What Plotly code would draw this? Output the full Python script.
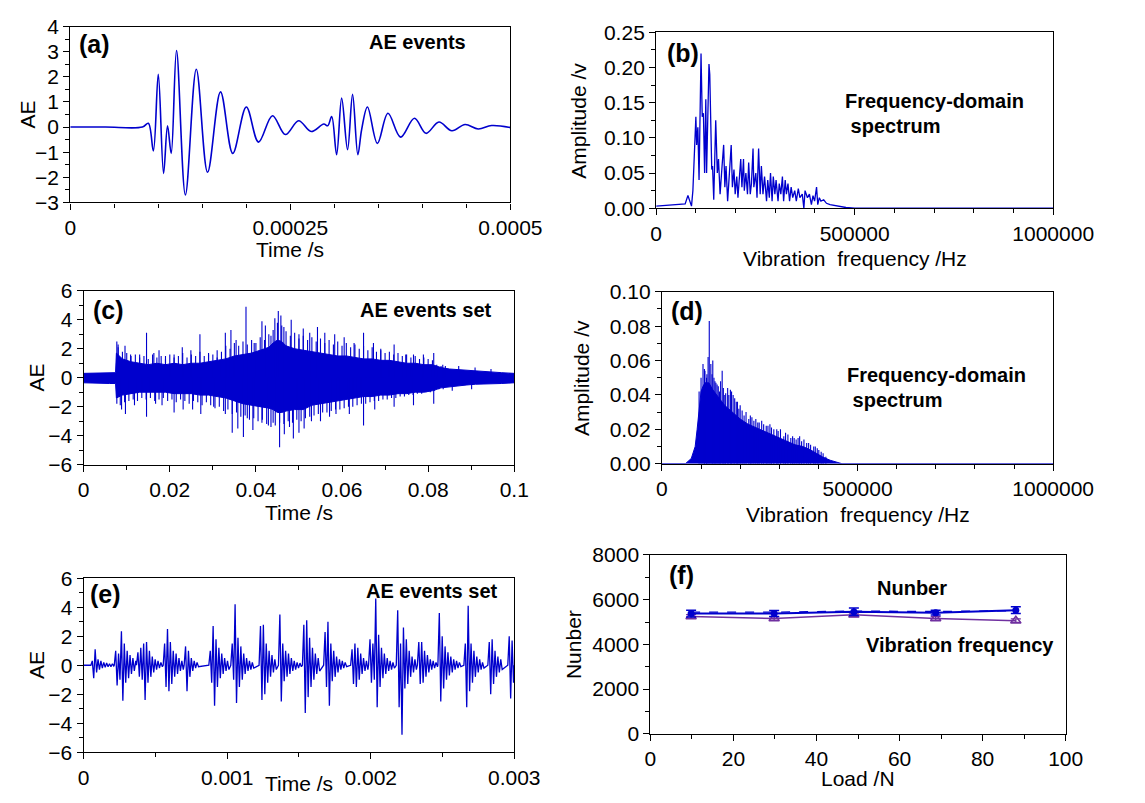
import plotly.graph_objects as go

# ---------------- data ----------------
# (a) single AE event (time in s, AE amplitude) - extrema of the waveform
a_t = [0, 0.00004, 0.000082, 0.0000887, 0.0000944, 0.0001, 0.000106, 0.0001105, 0.0001147, 0.0001207,
       0.0001308, 0.0001432, 0.000156, 0.0001707, 0.0001846, 0.0002, 0.0002139, 0.0002297, 0.0002444, 0.0002594,
       0.0002737, 0.000288, 0.0002925, 0.000297, 0.0003026, 0.0003083, 0.000315, 0.0003207, 0.0003267, 0.000331,
       0.0003376, 0.0003489, 0.0003609, 0.0003752, 0.000391, 0.0004041, 0.0004188, 0.0004335, 0.0004485, 0.0004635,
       0.0004786, 0.0005]
a_v = [0, 0, 0, 0.15, -0.95, 2.1, -1.85, 0.05, -1.05, 3.05,
       -2.7, 2.3, -1.8, 1.4, -1.05, 0.8, -0.6, 0.45, -0.3, 0.25,
       -0.18, 0.12, 0.05, 0.42, -1.1, 1.15, -0.9, 1.3, -1.1, -0.1,
       0.8, -0.65, 0.55, -0.4, 0.35, -0.25, 0.2, -0.15, 0.1, -0.08,
       0.06, -0.02]

# (b) spectrum of the single event (Hz, amplitude)
b_f = [0, 30000, 60000, 73000, 80000, 89000, 92500, 100000, 102000, 105000,
       108000, 113000, 116000, 119000, 122000, 125000, 127000, 133000, 135000, 140000,
       142000, 145000, 150000, 154000, 157000, 161000, 166000, 170000, 173000, 176000,
       180000, 184000, 189000, 192000, 196000, 199000, 203000, 206000, 213000, 216000,
       220000, 222000, 226000, 230000, 233000, 237000, 240000, 244000, 246000, 251000,
       254000, 258000, 262000, 265000, 269000, 273000, 278000, 281000, 285000, 288000,
       292000, 295000, 299000, 302000, 307000, 310000, 314000, 318000, 321000, 325000,
       328000, 332000, 336000, 340000, 344000, 349000, 353000, 358000, 362000, 368000,
       372000, 375000, 381000, 386000, 391000, 395000, 399000, 404000, 407000, 411000,
       415000, 422000, 429000, 438000, 447000, 460000, 478000, 500000, 1000000]
b_a = [0.003, 0.004, 0.005, 0.006, 0.018, 0.003, 0.025, 0.13, 0.09, 0.115,
       0.04, 0.22, 0.13, 0.135, 0.05, 0.155, 0.05, 0.205, 0.19, 0.055,
       0.06, 0.012, 0.125, 0.05, 0.07, 0.02, 0.06, 0.09, 0.03, 0.06,
       0.01, 0.05, 0.09, 0.03, 0.055, 0.02, 0.045, 0.015, 0.07, 0.03,
       0.07, 0.025, 0.05, 0.02, 0.065, 0.02, 0.035, 0.085, 0.03, 0.05,
       0.015, 0.085, 0.02, 0.06, 0.02, 0.045, 0.01, 0.04, 0.015, 0.05,
       0.01, 0.045, 0.02, 0.04, 0.01, 0.035, 0.02, 0.045, 0.01, 0.04,
       0.02, 0.035, 0.01, 0.03, 0.015, 0.025, 0.01, 0.028, 0.015, 0.02,
       0.0, 0.025, 0.015, 0.02, 0.005, 0.018, 0.01, 0.03, 0.005, 0.015,
       0.01, 0.012, 0.007, 0.005, 0.004, 0.002, 0.001, 0.0, 0.0]

# (c) AE events set: dense band (upper / lower envelope) plus individual spikes
c_band_t = [0, 0.002, 0.004, 0.006, 0.0074, 0.0076, 0.009, 0.011, 0.013, 0.015,
            0.017, 0.019, 0.021, 0.023, 0.025, 0.027, 0.029, 0.031, 0.033, 0.035,
            0.037, 0.039, 0.041, 0.043, 0.044, 0.045, 0.046, 0.047, 0.049, 0.051,
            0.053, 0.055, 0.057, 0.059, 0.061, 0.063, 0.065, 0.067, 0.069, 0.071,
            0.073, 0.075, 0.077, 0.079, 0.081, 0.083, 0.085, 0.087, 0.089, 0.091,
            0.093, 0.095, 0.097, 0.1]
c_band_up = [0.3, 0.3, 0.3, 0.35, 0.35, 1.7, 1.3, 1.1, 1.0, 0.9,
             1.0, 0.9, 1.0, 0.9, 1.0, 1.0, 1.1, 1.2, 1.3, 1.5,
             1.6, 1.7, 1.9, 2.1, 2.4, 2.6, 2.5, 2.2, 2.0, 1.9,
             1.8, 1.7, 1.6, 1.5, 1.5, 1.4, 1.3, 1.3, 1.2, 1.2,
             1.1, 1.0, 1.0, 0.9, 0.9, 0.7, 0.6, 0.55, 0.5, 0.5,
             0.45, 0.4, 0.35, 0.3]
c_band_lo = [-0.35, -0.35, -0.4, -0.4, -0.4, -1.4, -1.2, -1.1, -1.0, -1.0,
             -1.0, -1.0, -1.1, -1.1, -1.1, -1.2, -1.2, -1.3, -1.4, -1.6,
             -1.8, -1.9, -2.0, -2.1, -2.2, -2.4, -2.4, -2.3, -2.2, -2.2,
             -1.9, -1.8, -1.7, -1.6, -1.5, -1.4, -1.3, -1.3, -1.2, -1.2,
             -1.1, -1.1, -1.0, -1.0, -0.9, -0.7, -0.6, -0.55, -0.5, -0.45,
             -0.45, -0.4, -0.4, -0.35]
c_up_t = [0.0077, 0.0080, 0.0096, 0.0109, 0.013, 0.0146, 0.0163, 0.0175, 0.019, 0.021,
          0.0229, 0.0249, 0.027, 0.029, 0.031, 0.0329, 0.0342, 0.0354, 0.0377, 0.0396,
          0.0414, 0.0422, 0.0435, 0.0444, 0.0452, 0.0458, 0.0465, 0.0482, 0.05, 0.051,
          0.0525, 0.0543, 0.056, 0.0583, 0.0605, 0.0628, 0.065, 0.0673, 0.069, 0.0721,
          0.0748, 0.0766, 0.0789, 0.0813, 0.0834, 0.0871, 0.0909, 0.0946]
c_up_v = [2.5, 2.3, 2.2, 1.6, 1.6, 3.1, 1.7, 1.9, 1.5, 1.6,
          2.1, 1.9, 3.0, 1.6, 1.4, 3.1, 3.3, 2.6, 4.9, 2.4,
          3.9, 3.6, 2.9, 4.1, 4.6, 4.3, 3.5, 4.0, 3.0, 3.4,
          3.1, 3.5, 3.1, 3.0, 2.8, 2.4, 3.1, 2.4, 2.0, 2.3,
          1.6, 1.6, 1.6, 1.7, 0.9, 0.8, 0.7, 0.6]
c_dn_t = [0.0077, 0.0088, 0.0097, 0.0118, 0.0146, 0.0167, 0.0182, 0.021, 0.0231, 0.0253,
          0.0272, 0.0302, 0.0329, 0.0345, 0.0358, 0.0371, 0.038, 0.0393, 0.0414, 0.0429,
          0.044, 0.0455, 0.0466, 0.0478, 0.0487, 0.05, 0.0512, 0.0529, 0.055, 0.0571,
          0.0586, 0.0617, 0.065, 0.0676, 0.0721, 0.0766, 0.0813, 0.0856, 0.0901]
c_dn_v = [-1.8, -2.2, -2.5, -1.9, -2.7, -1.8, -1.9, -2.4, -2.2, -2.2,
          -2.5, -2.0, -2.5, -3.8, -3.5, -4.1, -2.8, -3.6, -3.1, -3.3,
          -3.1, -4.8, -3.9, -3.4, -4.2, -3.8, -3.5, -3.0, -3.0, -2.7,
          -2.5, -2.5, -3.3, -2.2, -2.0, -1.9, -1.8, -0.9, -0.8]
# smaller hair-like peaks on the upper and lower edges of the band
c_hair_up_t = [0.008, 0.009, 0.010, 0.011, 0.012, 0.013, 0.014, 0.015, 0.016, 0.017,
               0.018, 0.019, 0.020, 0.021, 0.022, 0.023, 0.024, 0.025, 0.026, 0.027,
               0.028, 0.029, 0.030, 0.031, 0.032, 0.033, 0.034, 0.035, 0.036, 0.037,
               0.038, 0.039, 0.040, 0.041, 0.042, 0.043, 0.044, 0.045, 0.046, 0.047,
               0.048, 0.049, 0.050, 0.051, 0.052, 0.053, 0.054, 0.055, 0.056, 0.057,
               0.058, 0.059, 0.060, 0.061, 0.062, 0.063, 0.064, 0.065, 0.066, 0.067,
               0.068, 0.069, 0.070, 0.071, 0.072, 0.073, 0.074, 0.075, 0.076, 0.077,
               0.078, 0.079, 0.080, 0.081, 0.082, 0.083, 0.084]
c_hair_up_v = [2.1, 1.8, 1.7, 1.5, 1.6, 1.4, 1.5, 1.3, 1.6, 1.4,
               1.5, 1.3, 1.6, 1.4, 1.5, 1.7, 1.4, 1.6, 1.5, 1.8,
               1.5, 1.7, 1.6, 1.9, 1.8, 2.2, 2.0, 2.4, 2.2, 2.5,
               2.3, 2.6, 2.4, 2.8, 2.6, 3.0, 3.3, 3.8, 3.6, 3.2,
               2.9, 3.1, 2.7, 2.9, 2.6, 2.8, 2.5, 2.7, 2.4, 2.6,
               2.3, 2.5, 2.2, 2.4, 2.1, 2.3, 2.0, 2.2, 1.9, 2.1,
               1.8, 1.9, 1.7, 1.8, 1.6, 1.7, 1.5, 1.6, 1.4, 1.5,
               1.3, 1.4, 1.3, 1.2, 0.9, 0.8, 0.8]
c_hair_dn_t = [0.0085, 0.0095, 0.0105, 0.0115, 0.0125, 0.0135, 0.0145, 0.0155, 0.0165, 0.0175,
               0.0185, 0.0195, 0.0205, 0.0215, 0.0225, 0.0235, 0.0245, 0.0255, 0.0265, 0.0275,
               0.0285, 0.0295, 0.0305, 0.0315, 0.0325, 0.0335, 0.0345, 0.0355, 0.0365, 0.0375,
               0.0385, 0.0395, 0.0405, 0.0415, 0.0425, 0.0435, 0.0445, 0.0455, 0.0465, 0.0475,
               0.0485, 0.0495, 0.0505, 0.0515, 0.0525, 0.0535, 0.0545, 0.0555, 0.0565, 0.0575,
               0.0585, 0.0595, 0.0605, 0.0615, 0.0625, 0.0635, 0.0645, 0.0655, 0.0665, 0.0675,
               0.0685, 0.0695, 0.0705, 0.0715, 0.0725, 0.0735, 0.0745, 0.0755, 0.0765, 0.0775,
               0.0785, 0.0795, 0.0805, 0.0815, 0.0825, 0.0835]
c_hair_dn_v = [-1.9, -1.7, -1.6, -1.5, -1.6, -1.4, -1.5, -1.4, -1.6, -1.5,
               -1.4, -1.6, -1.5, -1.7, -1.5, -1.6, -1.8, -1.6, -1.7, -1.9,
               -1.7, -1.9, -2.1, -2.0, -2.3, -2.2, -2.5, -2.4, -2.7, -2.6,
               -2.9, -2.8, -3.0, -2.9, -3.2, -3.4, -3.3, -3.1, -3.2, -3.0,
               -3.1, -2.9, -3.0, -2.8, -2.7, -2.6, -2.5, -2.4, -2.4, -2.3,
               -2.2, -2.2, -2.1, -2.0, -2.0, -1.9, -1.8, -1.8, -1.7, -1.6,
               -1.6, -1.5, -1.5, -1.4, -1.4, -1.3, -1.3, -1.2, -1.2, -1.1,
               -1.1, -1.0, -1.0, -0.9, -0.8, -0.8]

# (d) spectrum of the events set: dense envelope plus spikes
d_f = [0, 60000, 75000, 85000, 90000, 95000, 100000, 105000, 110000, 120000,
       130000, 140000, 150000, 160000, 170000, 180000, 190000, 200000,
       220000, 240000, 260000, 280000, 300000, 320000, 340000, 360000, 380000,
       395000, 410000, 430000, 450000, 460000, 1000000]
d_a = [0, 0, 0.003, 0.01, 0.02, 0.033, 0.042, 0.045, 0.047, 0.047,
       0.043, 0.04, 0.037, 0.034, 0.032, 0.03, 0.028, 0.026,
       0.023, 0.021, 0.019, 0.017, 0.015, 0.013, 0.011, 0.01, 0.008,
       0.006, 0.004, 0.002, 0.0005, 0, 0]
d_spk_f = [105000, 108600, 114000, 121000, 125000, 130000, 135500, 141000, 147000, 154000,
           160700, 168000, 175000, 182000, 190000, 196600, 210000, 222000, 235000, 248600,
           266600, 280000, 293500, 311500, 329400, 343000, 352000, 370000, 388000, 401000, 419000,
           95000, 100000, 110000, 115000, 118000, 128000, 133000, 138000, 144000, 150000,
           157000, 163000, 171000, 178000, 186000, 193000, 200000, 205000, 215000, 226000,
           230000, 240000, 245000, 255000, 260000, 271000, 276000, 286000, 297000, 303000,
           316000, 322000, 334000, 338000, 348000, 357000, 363000, 375000, 380000, 392000,
           397000, 407000, 412000]
d_spk_a = [0.058, 0.055, 0.05, 0.083, 0.058, 0.06, 0.048, 0.046, 0.042, 0.054,
           0.04, 0.044, 0.043, 0.04, 0.036, 0.032, 0.028, 0.026, 0.025, 0.024,
           0.022, 0.021, 0.02, 0.016, 0.015, 0.014, 0.016, 0.012, 0.01, 0.008, 0.004,
           0.042, 0.05, 0.054, 0.052, 0.062, 0.052, 0.05, 0.047, 0.045, 0.048,
           0.044, 0.041, 0.04, 0.042, 0.038, 0.036, 0.034, 0.031, 0.03, 0.028,
           0.027, 0.026, 0.024, 0.025, 0.023, 0.022, 0.023, 0.02, 0.019, 0.02,
           0.018, 0.017, 0.016, 0.015, 0.015, 0.013, 0.014, 0.012, 0.011, 0.01,
           0.009, 0.007, 0.006]

# (e) events set (short window): burst onset times and successive extrema of each burst
e_half_period = 0.00001
e_start = [0.00006, 0.000223, 0.000378, 0.000564, 0.00071, 0.000882, 0.001035, 0.001232, 0.001367,
           0.001534, 0.001682, 0.00187, 0.001995, 0.002188, 0.002335, 0.002478, 0.002659, 0.002826, 0.002965]
e_bursts = [
    [0.3, -0.9, 1.1, -0.5, 0.4, -0.3, 0.3, -0.2, 0.2, -0.15, 0.15, -0.1, 0.1, -0.1, 0.1, -0.05],
    [1.0, -1.4, 0.8, -1.0, 2.35, -2.45, 1.5, -1.2, 1.0, -0.9, 0.7, -0.6, 0.5, -0.4, 0.3],
    [0.9, -0.8, 1.2, -1.0, 1.5, -2.4, 1.6, -1.2, 1.0, -0.8, 0.6, -0.5, 0.4, -0.3, 0.3, -0.2, 0.2, -0.1],
    [1.5, -1.5, 2.5, -1.8, 1.6, -1.3, 1.0, -0.8, 0.8, -0.6, 0.5, -0.4, 0.3, -0.3],
    [1.3, -1.8, 1.0, -0.8, 0.5, -0.4, 0.3, -0.2, 0.2, -0.1],
    [1.0, -1.2, 2.7, -2.8, 1.8, -1.5, 1.2, -0.9, 0.8, -0.6, 0.5, -0.4, 0.3, -0.3],
    [1.5, -1.0, 4.2, -2.6, 1.9, -1.5, 1.3, -1.0, 0.8, -0.6, 0.5, -0.4, 0.3, -0.3, 0.2, -0.2],
    [2.7, -2.4, 2.8, -2.0, 1.5, -1.2, 1.0, -0.8, 0.7, -0.5, 0.4, -0.3],
    [3.5, -2.5, 1.5, -1.1, 1.0, -0.8, 0.8, -0.6, 0.5, -0.4, 0.3, -0.3, 0.2, -0.2, 0.15, -0.1],
    [2.8, -3.3, 3.1, -2.2, 1.9, -1.5, 1.2, -1.0, 0.8, -0.6, 0.5, -0.4],
    [2.3, -1.5, 3.0, -2.8, 1.5, -1.1, 1.0, -0.8, 0.6, -0.5, 0.4, -0.3, 0.3, -0.2, 0.2, -0.1],
    [1.1, -1.3, 1.5, -1.5, 1.2, -1.0, 0.8, -0.6, 0.5, -0.4, 0.3, -0.3],
    [1.8, -1.2, 1.5, -1.0, 4.6, -2.9, 2.1, -1.5, 1.2, -0.9, 0.8, -0.6, 0.5, -0.4, 0.3, -0.3, 0.2, -0.2],
    [3.8, -2.9, 1.5, -4.8, 2.6, -1.6, 1.8, -1.3, 1.0, -0.8, 0.6, -0.5, 0.4, -0.3],
    [1.6, -1.3, 1.6, -1.2, 1.0, -0.8, 0.7, -0.5, 0.4, -0.3, 0.3, -0.2, 0.2, -0.1],
    [3.6, -2.5, 2.0, -1.6, 1.3, -1.0, 0.9, -0.7, 0.6, -0.5, 0.4, -0.3, 0.3, -0.2, 0.2, -0.1],
    [1.5, -2.9, 4.1, -1.8, 1.5, -1.2, 1.0, -0.8, 0.6, -0.5, 0.4, -0.3, 0.2, -0.2],
    [1.6, -2.0, 1.8, -1.3, 1.0, -0.8, 0.6, -0.5, 0.4, -0.3],
    [2.0, -2.3, 1.7, -1.2],
]

# (f) number / vibration frequency versus load
f_load = [9.8, 29.8, 49.0, 68.7, 88.0]
f_number = [5380, 5380, 5460, 5420, 5530]
f_number_err = [150, 130, 170, 110, 150]
f_number_mean = [5440, 5440, 5490, 5470, 5510]
f_vib = [5250, 5160, 5320, 5160, 5060]
f_vib_err = [80, 80, 80, 80, 80]

# tick labels
a_xticks = [0, 0.00025, 0.0005]; a_xlabels = ["0", "0.00025", "0.0005"]
a_yticks = [-3, -2, -1, 0, 1, 2, 3, 4]
spec_xticks = [0, 500000, 1000000]; spec_xlabels = ["0", "500000", "1000000"]
b_yticks = [0, 0.05, 0.10, 0.15, 0.20, 0.25]; b_ylabels = ["0.00", "0.05", "0.10", "0.15", "0.20", "0.25"]
c_xticks = [0, 0.02, 0.04, 0.06, 0.08, 0.1]; c_xlabels = ["0", "0.02", "0.04", "0.06", "0.08", "0.1"]
ae_yticks = [-6, -4, -2, 0, 2, 4, 6]
d_yticks = [0, 0.02, 0.04, 0.06, 0.08, 0.10]; d_ylabels = ["0.00", "0.02", "0.04", "0.06", "0.08", "0.10"]
e_xticks = [0, 0.001, 0.002, 0.003]; e_xlabels = ["0", "0.001", "0.002", "0.003"]
f_xticks = [0, 20, 40, 60, 80, 100]
f_yticks = [0, 2000, 4000, 6000, 8000]

# ---------------- figure ----------------
W, H = 1145, 803
BLUE = "rgb(0,0,205)"
PURPLE = "rgb(112,48,160)"
FONT = "Liberation Sans, Arial, sans-serif"
TICK = 21
TITLE = 21
NOTE = 20
PANEL = 25


def dom_x(a, b):
    return [a / W, b / W]


def dom_y(top, bottom):
    return [1 - bottom / H, 1 - top / H]


def spikes(ts, vs):
    xs, ys = [], []
    for t, v in zip(ts, vs):
        xs += [t, t, None]
        ys += [0, v, None]
    return xs, ys


fig = go.Figure()

# (a)
fig.add_trace(go.Scatter(x=a_t, y=a_v, mode="lines", line=dict(color=BLUE, width=1.6, shape="spline", smoothing=1.0),
                         xaxis="x", yaxis="y", hoverinfo="skip"))
# (b)
fig.add_trace(go.Scatter(x=b_f, y=b_a, mode="lines", line=dict(color=BLUE, width=1.3),
                         xaxis="x2", yaxis="y2", hoverinfo="skip"))
# (c)
fig.add_trace(go.Scatter(x=c_band_t + c_band_t[::-1], y=c_band_up + c_band_lo[::-1], mode="lines",
                         fill="toself", fillcolor=BLUE, line=dict(color=BLUE, width=1),
                         xaxis="x3", yaxis="y3", hoverinfo="skip"))
sx, sy = spikes(c_up_t + c_dn_t + c_hair_up_t + c_hair_dn_t, c_up_v + c_dn_v + c_hair_up_v + c_hair_dn_v)
fig.add_trace(go.Scatter(x=sx, y=sy, mode="lines", line=dict(color=BLUE, width=1.1),
                         xaxis="x3", yaxis="y3", hoverinfo="skip"))
# (d)
fig.add_trace(go.Scatter(x=d_f, y=d_a, mode="lines", fill="tozeroy", fillcolor=BLUE,
                         line=dict(color=BLUE, width=1), xaxis="x4", yaxis="y4", hoverinfo="skip"))
sx, sy = spikes(d_spk_f, d_spk_a)
fig.add_trace(go.Scatter(x=sx, y=sy, mode="lines", line=dict(color=BLUE, width=1.1),
                         xaxis="x4", yaxis="y4", hoverinfo="skip"))
# (e)
e_t, e_v = [0.0], [0.0]
for s, amps in zip(e_start, e_bursts):
    e_t.append(s - e_half_period)
    e_v.append(0.0)
    for k, a in enumerate(amps):
        e_t.append(s + k * e_half_period)
        e_v.append(a)
e_t.append(0.003)
e_v.append(0.0)
fig.add_trace(go.Scatter(x=e_t, y=e_v, mode="lines", line=dict(color=BLUE, width=1.3),
                         xaxis="x5", yaxis="y5", hoverinfo="skip"))
# (f)
fig.add_trace(go.Scatter(x=f_load, y=f_number_mean, mode="lines", line=dict(color=BLUE, width=1.3, dash="dash"),
                         xaxis="x6", yaxis="y6", hoverinfo="skip"))
fig.add_trace(go.Scatter(x=f_load, y=f_vib, mode="lines+markers",
                         line=dict(color=PURPLE, width=1.5),
                         marker=dict(symbol="triangle-up-open", size=9, color=PURPLE, line=dict(width=1.5)),
                         error_y=dict(type="data", array=f_vib_err, color=PURPLE, thickness=1.3, width=5),
                         xaxis="x6", yaxis="y6", hoverinfo="skip"))
fig.add_trace(go.Scatter(x=f_load, y=f_number, mode="lines+markers",
                         line=dict(color=BLUE, width=2),
                         marker=dict(symbol="circle", size=7, color=BLUE),
                         error_y=dict(type="data", array=f_number_err, color=BLUE, thickness=1.5, width=5),
                         xaxis="x6", yaxis="y6", hoverinfo="skip"))


def axis(domain, rng, tickvals, ticktext, minor_dtick, anchor):
    d = dict(domain=domain, range=rng, tickmode="array", tickvals=tickvals,
             showline=True, linecolor="black", linewidth=1.3, mirror=True,
             ticks="outside", ticklen=6, tickwidth=1.3, tickcolor="black",
             showgrid=False, zeroline=False, anchor=anchor, fixedrange=True,
             tickfont=dict(family=FONT, size=TICK, color="black"),
             minor=dict(ticks="outside", ticklen=4, tickwidth=1.3, tickcolor="black",
                        tickmode="linear", tick0=0, dtick=minor_dtick, showgrid=False))
    if ticktext is not None:
        d["ticktext"] = ticktext
    return d


PAN = {
    "a": (67, 526, 15, 196),
    "b": (678, 1092, 21, 202),
    "c": (81, 530, 287, 466),
    "d": (684, 1092, 288, 465),
    "e": (81, 530, 583, 762),
    "f": (672, 1105, 559, 743),
}

lay = dict(width=W, height=H, margin=dict(l=0, r=0, t=0, b=0), paper_bgcolor="white",
           plot_bgcolor="white", showlegend=False, font=dict(family=FONT, color="black"))

x0, x1, y0, y1 = PAN["a"]
lay["xaxis"] = axis(dom_x(x0, x1), [0, 0.0005], a_xticks, a_xlabels, 0.00005, "y")
lay["yaxis"] = axis(dom_y(y0, y1), [-3, 4], a_yticks, None, 0.5, "x")
x0, x1, y0, y1 = PAN["b"]
lay["xaxis2"] = axis(dom_x(x0, x1), [0, 1000000], spec_xticks, spec_xlabels, 100000, "y2")
lay["yaxis2"] = axis(dom_y(y0, y1), [0, 0.25], b_yticks, b_ylabels, 0.025, "x2")
x0, x1, y0, y1 = PAN["c"]
lay["xaxis3"] = axis(dom_x(x0, x1), [0, 0.1], c_xticks, c_xlabels, 0.01, "y3")
lay["yaxis3"] = axis(dom_y(y0, y1), [-6, 6], ae_yticks, None, 1, "x3")
x0, x1, y0, y1 = PAN["d"]
lay["xaxis4"] = axis(dom_x(x0, x1), [0, 1000000], spec_xticks, spec_xlabels, 100000, "y4")
lay["yaxis4"] = axis(dom_y(y0, y1), [0, 0.1], d_yticks, d_ylabels, 0.01, "x4")
x0, x1, y0, y1 = PAN["e"]
lay["xaxis5"] = axis(dom_x(x0, x1), [0, 0.003], e_xticks, e_xlabels, 0.0005, "y5")
lay["yaxis5"] = axis(dom_y(y0, y1), [-6, 6], ae_yticks, None, 1, "x5")
x0, x1, y0, y1 = PAN["f"]
lay["xaxis6"] = axis(dom_x(x0, x1), [0, 100], f_xticks, None, 10, "y6")
lay["yaxis6"] = axis(dom_y(y0, y1), [0, 8000], f_yticks, None, 1000, "x6")


def ptitle(text, x, y, angle=0):
    return dict(text=text, x=x / W, y=1 - y / H, xref="paper", yref="paper", showarrow=False,
                xanchor="center", yanchor="middle", textangle=angle,
                font=dict(family=FONT, size=TITLE, color="black"))


def dnote(text, ax, x, y, size=NOTE, xanchor="center"):
    return dict(text="<b>" + text + "</b>", x=x, y=y, xref="x" + ax, yref="y" + ax, showarrow=False,
                xanchor=xanchor, yanchor="middle", font=dict(family=FONT, size=size, color="black"))


def cx(p):
    return (PAN[p][0] + PAN[p][1]) / 2


def cy(p):
    return (PAN[p][2] + PAN[p][3]) / 2


anns = [
    # axis titles
    ptitle("AE", 22, cy("a"), -90), ptitle("Time /s", cx("a"), 244),
    ptitle("Amplitude /v", 597, cy("b"), -90), ptitle("Vibration  frequency /Hz", cx("b"), 254),
    ptitle("AE", 32, cy("c"), -90), ptitle("Time /s", cx("c"), 515),
    ptitle("Amplitude /v", 600, cy("d"), -90), ptitle("Vibration  frequency /Hz", cx("d"), 517),
    ptitle("AE", 32, cy("e"), -90), ptitle("Time /s", cx("e"), 794),
    ptitle("Nunber", 592, cy("f"), -90), ptitle("Load /N", cx("f"), 789),
    # panel labels and notes (placed in each panel's data coordinates)
    dnote("(a)", "", 0.000008, 3.3, size=PANEL, xanchor="left"),
    dnote("AE events", "", 0.000394, 3.38),
    dnote("(b)", "2", 21000, 0.221, size=PANEL, xanchor="left"),
    dnote("Frequency-domain", "2", 470000, 0.153, xanchor="left"),
    dnote(" spectrum", "2", 470000, 0.117, xanchor="left"),
    dnote("(c)", "3", 0.0016, 4.69, size=PANEL, xanchor="left"),
    dnote("AE events set", "3", 0.0796, 4.69),
    dnote("(d)", "4", 18000, 0.089, size=PANEL, xanchor="left"),
    dnote("Frequency-domain", "4", 469000, 0.0515, xanchor="left"),
    dnote(" spectrum", "4", 469000, 0.0368, xanchor="left"),
    dnote("(e)", "5", 0.00003, 4.95, size=PANEL, xanchor="left"),
    dnote("AE events set", "5", 0.00243, 5.15),
    dnote("(f)", "6", 4.1, 7084, size=PANEL, xanchor="left"),
    dnote("Nunber", "6", 63.1, 6506),
    dnote("Vibration frequency", "6", 74.6, 3976),
]
lay["annotations"] = anns
fig.update_layout(**lay)
fig.write_html("out.html")
